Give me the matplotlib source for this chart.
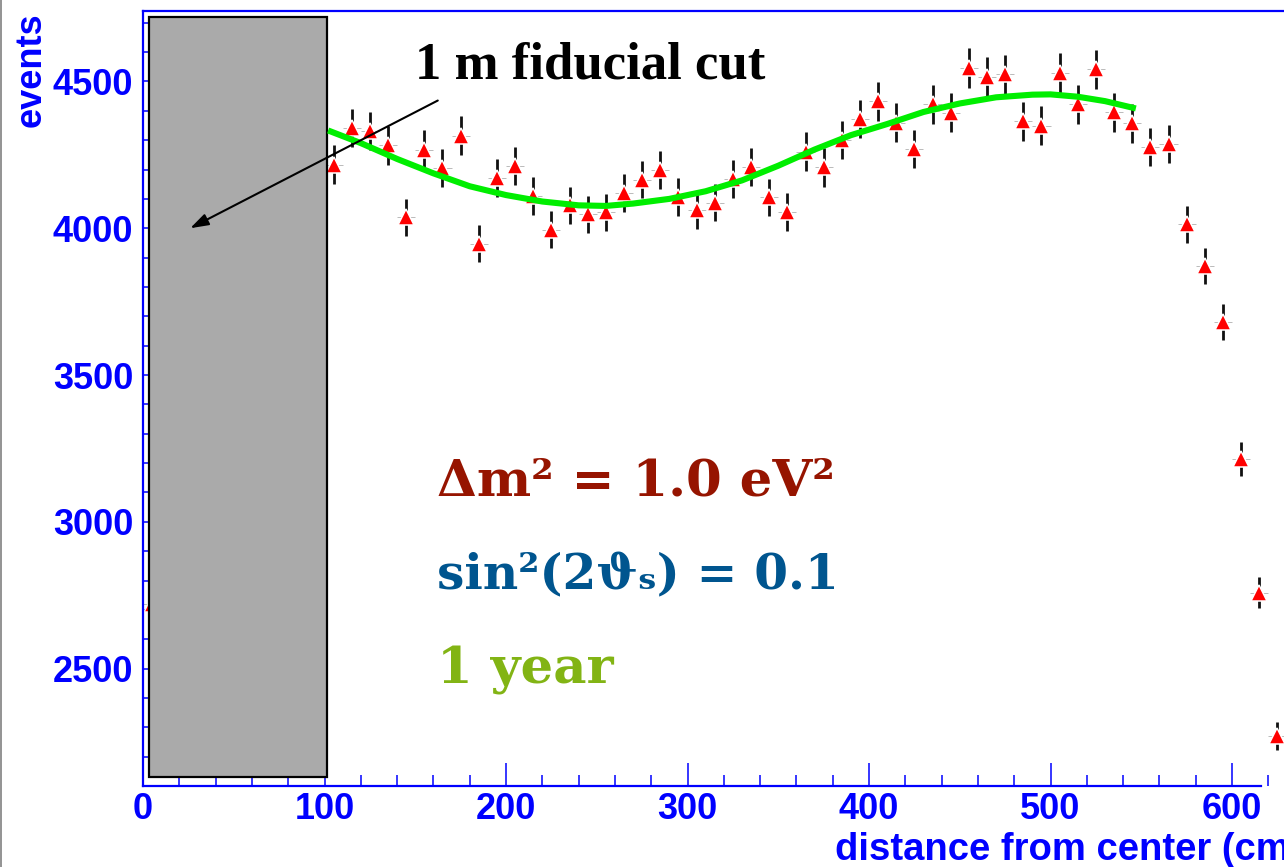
import matplotlib
matplotlib.use("Agg")
import matplotlib.pyplot as plt
from matplotlib.patches import Rectangle
from matplotlib.lines import Line2D
from matplotlib.ticker import MultipleLocator
import numpy as np

# ── Data ─────────────────────────────────────────────────────────────────────

# radial bins (cm, bin centres) and event counts per bin
distance = [5,
            105, 115, 125, 135, 145, 155, 165, 175, 185, 195,
            205, 215, 225, 235, 245, 255, 265, 275, 285, 295,
            305, 315, 325, 335, 345, 355, 365, 375, 385, 395,
            405, 415, 425, 435, 445, 455, 465, 475, 485, 495,
            505, 515, 525, 535, 545, 555, 565, 575, 585, 595,
            605, 615, 625]
events = [2720,
          4217, 4341, 4331, 4282, 4037, 4268, 4206, 4315, 3948, 4171,
          4211, 4110, 3995, 4078, 4047, 4054, 4119, 4166, 4198, 4107,
          4062, 4087, 4168, 4210, 4105, 4055, 4261, 4207, 4300, 4372,
          4433, 4360, 4269, 4423, 4394, 4545, 4516, 4524, 4364, 4349,
          4528, 4422, 4541, 4395, 4357, 4276, 4286, 4014, 3871, 3680,
          3214, 2759, 2269]
bin_half_width = 5

# oscillation fit curve
fit_distance = [102, 120, 140, 160, 180, 200, 220, 240, 255, 270,
                290, 310, 330, 350, 370, 390, 410, 430, 450, 470,
                490, 500, 515, 530, 547]
fit_events = [4333, 4290, 4236, 4187, 4143, 4113, 4091, 4078, 4076, 4084,
              4100, 4126, 4163, 4213, 4268, 4317, 4355, 4396, 4425, 4446,
              4455, 4456, 4448, 4433, 4408]

# fiducial volume cut (cm)
cut_x = (3.3, 101.6)
cut_y = (2131, 4721)

param_lines = ["Δm² = 1.0 eV²", "sin²(2ϑₛ) = 0.1", "1 year"]
param_colors = ["#961400", "#00558f", "#82b414"]
param_baselines = [3090, 2770, 2450]
param_sizes = [37, 35, 37]

BLUE = "#0000ff"

# ── Plot ─────────────────────────────────────────────────────────────────────

W, H = 1284, 867
fig = plt.figure(figsize=(W / 100, H / 100), dpi=100)
fig.patch.set_facecolor("white")

ax = fig.add_axes([143 / W, 81 / H, 1143.5 / W, 775 / H])
ax.set_xlim(0, 630)
ax.set_ylim(2100, 4740)

for side in ("top", "left", "bottom"):
    ax.spines[side].set_color(BLUE)
    ax.spines[side].set_linewidth(1.6)
ax.spines["right"].set_visible(False)
ax.spines["bottom"].set_bounds(0, 616)

ax.xaxis.set_major_locator(MultipleLocator(100))
ax.xaxis.set_minor_locator(MultipleLocator(20))
ax.yaxis.set_major_locator(MultipleLocator(500))
ax.yaxis.set_minor_locator(MultipleLocator(100))
ax.set_yticks([2500, 3000, 3500, 4000, 4500])

ax.tick_params(axis="x", which="major", direction="in", length=16.5,
               width=1.1, color=BLUE, pad=4)
ax.tick_params(axis="x", which="minor", direction="in", length=8,
               width=1.1, color=BLUE)
ax.tick_params(axis="y", which="major", direction="in", length=24,
               width=1.1, color=BLUE, pad=7)
ax.tick_params(axis="y", which="minor", direction="in", length=12,
               width=1.1, color=BLUE)
ax.tick_params(top=False, right=False, which="both")

for lab in ax.get_xticklabels() + ax.get_yticklabels():
    lab.set_fontfamily("Liberation Sans")
    lab.set_fontweight("bold")
    lab.set_fontsize(26)
    lab.set_color(BLUE)

# data points with sqrt(N) errors
counts = np.array(events, dtype=float)
ax.errorbar(distance, events, xerr=bin_half_width, fmt="none",
            ecolor="#b0b0b0", elinewidth=0.6, capsize=0, zorder=2)
ax.errorbar(distance, events, yerr=np.sqrt(counts), fmt="none",
            ecolor="#111111", elinewidth=2.0, capsize=0, zorder=2.1)
ax.plot(distance, events, linestyle="none", marker="^", markersize=11.5,
        markerfacecolor="#ff0000", markeredgecolor="white",
        markeredgewidth=1.1, zorder=2.2)

# fit
ax.plot(fit_distance, fit_events, color="#00ee00", linewidth=4.4,
        solid_capstyle="butt", zorder=4)

# fiducial cut region
ax.add_patch(Rectangle((cut_x[0], cut_y[0]), cut_x[1] - cut_x[0],
                       cut_y[1] - cut_y[0], facecolor="#aaaaaa",
                       edgecolor="black", linewidth=1.6, zorder=3))

ax.annotate("", xy=(26, 4000), xytext=(162.4, 4435),
            arrowprops=dict(arrowstyle="-|>,head_length=0.55,head_width=0.18",
                            color="black", lw=1.5, mutation_scale=20,
                            shrinkA=0, shrinkB=0),
            zorder=6)
ax.text(150, 4510, "1 m fiducial cut", fontfamily="Liberation Serif",
        fontweight="bold", fontsize=38, color="black", va="baseline",
        ha="left", zorder=6)

for txt, col, yb, fs in zip(param_lines, param_colors, param_baselines,
                            param_sizes):
    ax.text(162, yb, txt, fontfamily=["DejaVu Serif"],
            fontweight="bold", fontsize=fs, color=col, va="baseline",
            ha="left", zorder=6)

# axis titles
fig.text(41 / W, 1 - 12 / H, "events", rotation=90, rotation_mode="anchor",
         ha="right", va="baseline", fontfamily="Liberation Sans",
         fontweight="bold", fontsize=26, color=BLUE)
fig.text(835 / W, 7 / H, "distance from center (cm)", ha="left",
         va="baseline", fontfamily="Liberation Sans", fontweight="bold",
         fontsize=27.5, color=BLUE)

# page edge
fig.add_artist(Line2D([1.5 / W, 1.5 / W], [0, 1], color="#808080",
                      linewidth=1.2))

fig.savefig("out.png", dpi=100)
